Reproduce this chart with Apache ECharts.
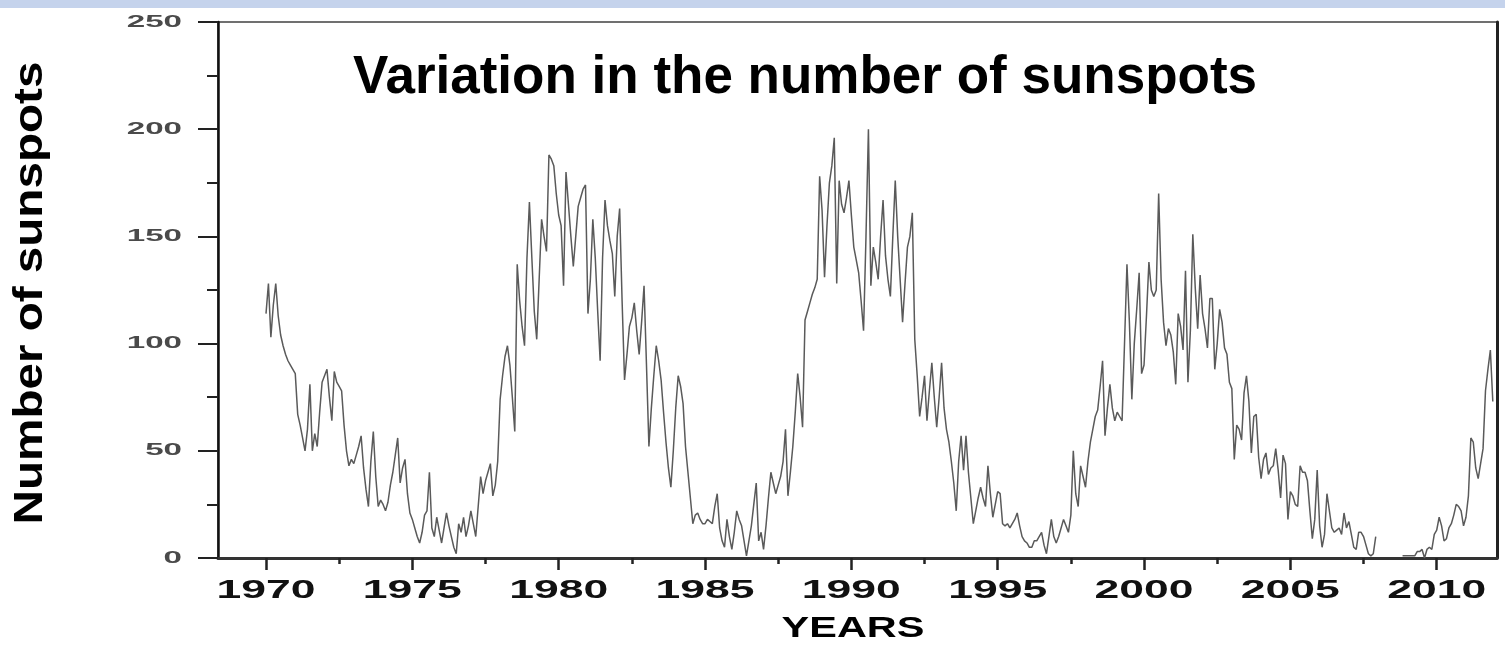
<!DOCTYPE html>
<html>
<head>
<meta charset="utf-8">
<script src="https://cdn.jsdelivr.net/npm/echarts@6/dist/echarts.min.js"></script>
<style>
  html, body { margin: 0; padding: 0; background: #ffffff; }
  #chart { width: 1505px; height: 653px; }
</style>
</head>
<body>
<div id="chart"></div>
<script>
// Monthly sunspot counts, one row per year (Jan..Dec)
const counts1970s = [
  114,128,103,118,128,113,104, 99, 95, 92, 90, 88,
   86, 67, 62, 56, 50, 60, 81, 50, 58, 52, 68, 82,
   85, 88, 75, 64, 87, 82, 80, 78, 62, 50, 43, 46,
   44, 48, 52, 57, 42, 32, 24, 45, 59, 38, 24, 27,
   25, 22, 26, 34, 40, 48, 56, 35, 42, 46, 30, 21,
   18, 14, 10,  7, 12, 20, 22, 40, 14, 10, 19, 13,
    7, 14, 21, 15, 10,  5,  2, 16, 12, 19, 10, 15,
   22, 16, 10, 24, 38, 30, 36, 40, 44, 29, 34, 45,
   74, 85, 94, 99, 90, 75, 59,137,120,108, 99,140,
  166,140,115,102,130,158,150,143,188,186,183,170
];
const counts1980s = [
  160,155,127,180,165,150,136,150,164,168,172,174,
  114,130,158,140,115, 92,140,167,155,148,142,122,
  150,163,120, 83, 95,108,112,119,106, 95,110,127,
   90, 52, 70, 85, 99, 92, 83, 68, 54, 42, 33, 50,
   70, 85, 80, 72, 52, 40, 28, 16, 20, 21, 18, 16,
   16, 18, 17, 16, 24, 30, 14,  8,  5, 18, 10,  4,
   12, 22, 18, 15,  8,  1,  8, 15, 25, 35,  8, 12,
    4, 15, 28, 40, 35, 30, 34, 38, 45, 60, 29, 40,
   52, 68, 86, 75, 61,111,115,119,123,126,130,178,
  162,131,155,175,183,196,128,176,165,161,168,176
];
const counts1990s = [
  160,145,139,133,120,106,150,200,127,145,138,130,
  150,167,141,130,122,150,176,150,130,110,128,145,
  150,161,102, 85, 66, 75, 85, 64, 78, 91, 75, 61,
   75, 91, 70, 60, 54, 45, 35, 22, 45, 57, 41, 57,
   40, 28, 16, 22, 28, 33, 28, 24, 43, 30, 19, 25,
   31, 30, 16, 15, 16, 14, 16, 18, 21, 15, 10,  8,
    7,  5,  5,  8,  8, 10, 12,  6,  2, 10, 18, 10,
    7, 10, 14, 18, 15, 12, 20, 50, 30, 24, 43, 38,
   33, 45, 54, 60, 66, 69, 80, 92, 57, 70, 81, 70,
   64, 68, 66, 64,100,137,110, 74,100,116,133, 86
];
// 2008: no record plotted until late in the year
const counts2000s = [
   90,113,138,125,122,125,170,130,110, 99,107,104,
   96, 81,114,108, 97,134, 82,106,151,126,107,132,
  114,107, 98,121,121, 88,100,116,110, 98, 95, 82,
   79, 46, 62, 60, 55, 77, 85, 73, 49, 66, 67, 47,
   37, 46, 49, 39, 42, 43, 51, 41, 28, 48, 44, 18,
   31, 29, 25, 24, 43, 40, 40, 36, 22,  9, 18, 41,
   15,  5, 11, 30, 22, 14, 12, 13, 14, 11, 21, 14,
   17, 11,  5,  4, 12, 12, 10,  6,  2,  1,  2, 10,
  null,null,null,null,null,null,null,null,null,null, 1, 1,
    1,  1,  1,  1,  3,  3,  4,  0,  4,  5,  4, 11
];
const counts2010s = [
   13, 19, 15,  8,  9, 14, 16, 20, 25, 24, 22, 15,
   19, 29, 56, 54, 42, 37, 44, 51, 78, 88, 97, 73
];

const firstYear = 1970;
const yearTicks = [1970, 1975, 1980, 1985, 1990, 1995, 2000, 2005, 2010];
const halfYearTicks = [1972.5, 1977.5, 1982.5, 1987.5, 1992.5, 1997.5, 2002.5, 2007.5];
const countTicks = [0, 50, 100, 150, 200, 250];

const titleText = 'Variation in the number of sunspots';
const xTitle = 'YEARS';
const yTitle = 'Number of sunspots';

const monthly = [].concat(counts1970s, counts1980s, counts1990s, counts2000s, counts2010s);
const points = monthly.map((v, i) => [firstYear + i / 12, v]);

const X_MIN = 1968.36, X_MAX = 2012.06;

const chart = echarts.init(document.getElementById('chart'));
chart.setOption({
  animation: false,
  backgroundColor: '#ffffff',
  grid: {
    left: 218, right: 8, top: 22, bottom: 95,
    show: true, borderColor: '#707070', borderWidth: 2, backgroundColor: '#ffffff'
  },
  xAxis: [
    {
      type: 'value', min: X_MIN, max: X_MAX,
      axisLine: { show: true, lineStyle: { color: '#333333', width: 3 } },
      axisTick: { show: true, customValues: yearTicks, length: 12, lineStyle: { color: '#222222', width: 2.5 } },
      axisLabel: { show: false },
      splitLine: { show: false }
    },
    {
      type: 'value', min: X_MIN, max: X_MAX, position: 'bottom',
      axisLine: { show: false },
      axisTick: { show: true, customValues: halfYearTicks, length: 6, lineStyle: { color: '#222222', width: 2.5 } },
      axisLabel: { show: false },
      splitLine: { show: false }
    }
  ],
  yAxis: [
    {
      type: 'value', min: 0, max: 250, interval: 50,
      axisLine: { show: true, lineStyle: { color: '#111111', width: 2.5 } },
      axisTick: { show: true, length: 20, lineStyle: { color: '#222222', width: 2 } },
      minorTick: { show: true, splitNumber: 2, length: 11, lineStyle: { color: '#222222', width: 2 } },
      axisLabel: { show: false },
      splitLine: { show: false }
    },
    {
      type: 'value', min: 0, max: 250, position: 'right',
      axisLine: { show: true, lineStyle: { color: '#222222', width: 3 } },
      axisTick: { show: false },
      axisLabel: { show: false },
      splitLine: { show: false }
    }
  ],
  series: [{
    type: 'line',
    data: points,
    xAxisIndex: 0,
    yAxisIndex: 0,
    showSymbol: false,
    symbol: 'none',
    connectNulls: false,
    lineStyle: { color: '#5a5a5a', width: 1.5 }
  }]
});

// Text overlay: tick labels placed through the axis scales, plus titles
function textEl(props, style) {
  const s = Object.assign({ fill: '#000000' }, style);
  s.textAlign = s.align;
  s.textVerticalAlign = s.verticalAlign;
  return Object.assign({ type: 'text', silent: true, z: 10 }, props, { style: s });
}

const overlay = [];
overlay.push({ type: 'rect', shape: { x: 0, y: 0, width: 1505, height: 8 }, style: { fill: '#c5d3ec' }, silent: true });

countTicks.forEach(v => {
  const py = chart.convertToPixel({ yAxisIndex: 0 }, v);
  overlay.push(textEl({ x: 182, y: py, scaleX: 1.95 },
    { text: String(v), font: 'bold 17px "Liberation Sans", Arial, sans-serif', fill: '#4a4a4a', align: 'right', verticalAlign: 'middle' }));
});

yearTicks.forEach(yr => {
  const px = chart.convertToPixel({ xAxisIndex: 0 }, yr);
  overlay.push(textEl({ x: px, y: 591, scaleX: 1.78 },
    { text: String(yr), font: 'bold 25px "Liberation Sans", Arial, sans-serif', fill: '#111111', align: 'center', verticalAlign: 'middle' }));
});

overlay.push(textEl({ x: 805, y: 78 },
  { text: titleText, font: 'bold 53px "Liberation Sans", Arial, sans-serif', fill: '#000000', align: 'center', verticalAlign: 'middle' }));

overlay.push(textEl({ x: 853, y: 629, scaleX: 1.43 },
  { text: xTitle, font: 'bold 29px "Liberation Sans", Arial, sans-serif', fill: '#000000', align: 'center', verticalAlign: 'middle' }));

overlay.push(textEl({ x: 31, y: 293, rotation: Math.PI / 2, scaleX: 1.19 },
  { text: yTitle, font: 'bold 40px "Liberation Sans", Arial, sans-serif', fill: '#000000', align: 'center', verticalAlign: 'middle' }));

chart.setOption({ graphic: overlay });
</script>
</body>
</html>
